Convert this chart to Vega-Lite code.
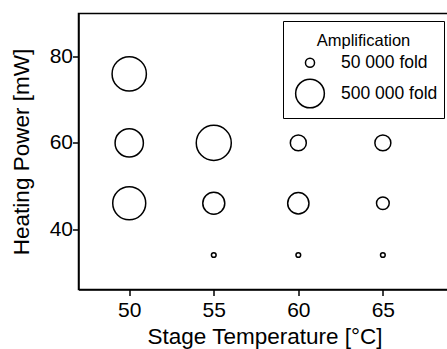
{
  "$schema": "https://vega.github.io/schema/vega-lite/v6.json",
  "width": 372,
  "height": 276,
  "autosize": {"type": "none"},
  "padding": {"left": 78.5, "top": 13.5, "right": 0, "bottom": 59.5},
  "background": "white",
  "config": {
    "font": "Liberation Sans",
    "view": {"stroke": "black", "strokeWidth": 1.5},
    "axis": {
      "grid": false,
      "domainColor": "black",
      "domainWidth": 1.5,
      "tickColor": "black",
      "tickWidth": 1.5,
      "tickSize": 6,
      "labelColor": "black",
      "labelFontSize": 21,
      "labelFont": "Liberation Sans",
      "titleFont": "Liberation Sans",
      "titleFontSize": 22.5,
      "titleFontWeight": "normal",
      "titleColor": "black"
    },
    "legend": {
      "labelFont": "Liberation Sans",
      "titleFont": "Liberation Sans",
      "labelFontSize": 17.5,
      "titleFontSize": 16.5,
      "labelLimit": 300,
      "titleAnchor": "middle",
      "titleAlign": "center"
    }
  },
  "data": {
    "values": [
      {"temp": 50, "power": 76, "amp": 714000},
      {"temp": 50, "power": 60, "amp": 486000},
      {"temp": 50, "power": 46, "amp": 661000},
      {"temp": 55, "power": 60, "amp": 744000},
      {"temp": 55, "power": 46, "amp": 294000},
      {"temp": 55, "power": 34, "amp": 13400},
      {"temp": 60, "power": 60, "amp": 155000},
      {"temp": 60, "power": 46, "amp": 275000},
      {"temp": 60, "power": 34, "amp": 13400},
      {"temp": 65, "power": 60, "amp": 155000},
      {"temp": 65, "power": 46, "amp": 98000},
      {"temp": 65, "power": 34, "amp": 13400}
    ]
  },
  "mark": {"type": "point", "shape": "circle", "filled": false, "stroke": "black", "strokeWidth": 1.5, "opacity": 1},
  "encoding": {
    "x": {
      "field": "temp",
      "type": "quantitative",
      "scale": {"domain": [47, 69], "nice": false, "zero": false},
      "axis": {"values": [50, 55, 60, 65], "title": "Stage Temperature [°C]", "labelPadding": 4, "titlePadding": 5}
    },
    "y": {
      "field": "power",
      "type": "quantitative",
      "scale": {"domain": [26, 90], "nice": false, "zero": false},
      "axis": {"values": [40, 60, 80], "title": "Heating Power [mW]", "labelPadding": 0, "titlePadding": 16}
    },
    "size": {
      "field": "amp",
      "type": "quantitative",
      "scale": {"domain": [0, 500000], "range": [0, 824]},
      "legend": {
        "values": [50000, 500000],
        "title": ["", "Amplification"],
        "labelExpr": "datum.value == 50000 ? '\u200750 000 fold' : '500 000 fold'",
        "orient": "none",
        "legendX": 204.5,
        "legendY": 7.5,
        "strokeColor": "black",
        "padding": 6.5,
        "titleFontSize": 16.5,
        "titleFontWeight": "normal",
        "titleColor": "black",
        "titleAnchor": "middle",
        "titleAlign": "center",
        "titleLineHeight": 5,
        "titlePadding": 5,
        "labelFontSize": 17.5,
        "labelColor": "black",
        "labelAlign": "left",
        "labelOffset": 15.5,
        "symbolOffset": 5,
        "symbolType": "circle",
        "symbolStrokeColor": "black",
        "symbolStrokeWidth": 1.5,
        "symbolFillColor": "transparent",
        "rowPadding": 4
      }
    }
  }
}
